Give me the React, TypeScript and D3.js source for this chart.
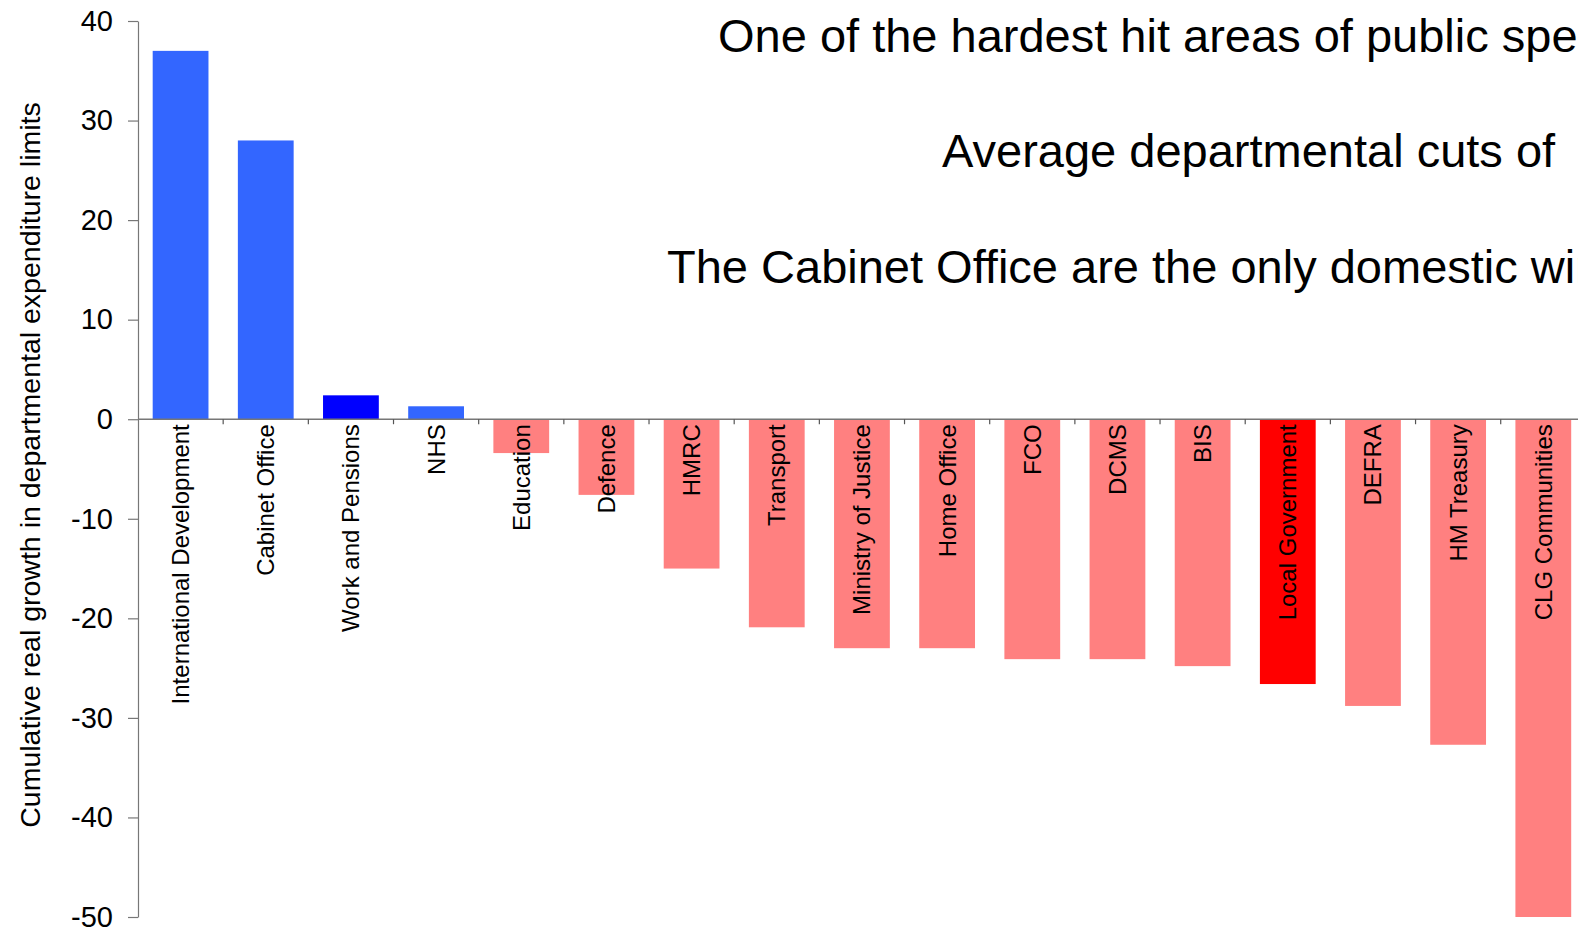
import React, { useEffect, useRef } from 'react';
import * as d3 from 'd3';

// departments, ordered as in the chart
const departments = [
  'International Development',
  'Cabinet Office',
  'Work and Pensions',
  'NHS',
  'Education',
  'Defence',
  'HMRC',
  'Transport',
  'Ministry of Justice',
  'Home Office',
  'FCO',
  'DCMS',
  'BIS',
  'Local Government',
  'DEFRA',
  'HM Treasury',
  'CLG Communities',
];

// cumulative real growth in DEL (%)
const growth = [37, 28, 2.4, 1.3, -3.4, -7.6, -15, -20.9, -23, -23, -24.1, -24.1, -24.8, -26.6, -28.8, -32.7, -51];

const yTicks = [40, 30, 20, 10, 0, -10, -20, -30, -40, -50];

// headline lines run off the right edge in the original slide
const headlines = [
  'One of the hardest hit areas of public spending',
  'Average departmental cuts of',
  'The Cabinet Office are the only domestic winners',
];

const WIDTH = 1578;
const HEIGHT = 928;
const FONT = '"Liberation Sans", Arial, Helvetica, sans-serif';

const barColour = (name: string, v: number) => {
  if (name === 'Work and Pensions') return '#0000ff';
  if (name === 'Local Government') return '#ff0000';
  return v >= 0 ? '#3366ff' : '#ff8080';
};

const App: React.FC = () => {
  const svgRef = useRef<SVGSVGElement | null>(null);

  useEffect(() => {
    if (!svgRef.current) return;
    const svg = d3.select(svgRef.current);
    svg.selectAll('*').remove();

    const left = 138;
    const top = 21;
    const bottom = 917;
    const pad = 0.345;

    const x = d3.scaleBand<string>()
      .domain(departments)
      .range([left, left + departments.length * 85.17])
      .paddingInner(pad)
      .paddingOuter(pad / 2);

    const y = d3.scaleLinear().domain([40, -50]).range([top, bottom]);
    const y0 = y(0);
    const step = x.step();

    svg.append('defs').append('clipPath').attr('id', 'plot-clip')
      .append('rect')
      .attr('x', left).attr('y', top)
      .attr('width', WIDTH - left).attr('height', bottom - top);

    // bars
    const data = departments.map((name, i) => ({ name, value: growth[i] }));
    svg.append('g').attr('clip-path', 'url(#plot-clip)')
      .selectAll('rect')
      .data(data)
      .enter()
      .append('rect')
      .attr('x', d => x(d.name) ?? 0)
      .attr('width', x.bandwidth())
      .attr('y', d => y(Math.max(0, d.value)))
      .attr('height', d => Math.abs(y(d.value) - y0))
      .attr('fill', d => barColour(d.name, d.value));

    // y axis
    const yAxis = svg.append('g')
      .attr('transform', `translate(${left},0)`)
      .call(d3.axisLeft(y).tickValues(yTicks).tickSize(10).tickSizeOuter(0).tickPadding(15)
        .tickFormat(d => String(d)));
    yAxis.select('.domain').attr('stroke', '#777').attr('stroke-width', 1.2);
    yAxis.selectAll('.tick line').attr('stroke', '#777').attr('stroke-width', 1.2);
    yAxis.selectAll('text')
      .attr('fill', '#000')
      .style('font-family', FONT)
      .style('font-size', '29px');

    // category axis line + boundary ticks
    svg.append('line')
      .attr('x1', left).attr('x2', WIDTH)
      .attr('y1', y0).attr('y2', y0)
      .attr('stroke', '#777').attr('stroke-width', 1.5);

    svg.append('g')
      .selectAll('line')
      .data(departments)
      .enter()
      .append('line')
      .attr('x1', d => (x(d) ?? 0) + x.bandwidth() + (step * pad) / 2)
      .attr('x2', d => (x(d) ?? 0) + x.bandwidth() + (step * pad) / 2)
      .attr('y1', y0)
      .attr('y2', y0 + 5)
      .attr('stroke', '#555')
      .attr('stroke-width', 1.2);

    // category labels, rotated
    svg.append('g')
      .selectAll('text')
      .data(departments)
      .enter()
      .append('text')
      .attr('transform', d => `translate(${(x(d) ?? 0) + x.bandwidth() / 2},${y0 + 5}) rotate(-90)`)
      .attr('text-anchor', 'end')
      .attr('dy', '0.35em')
      .style('font-family', FONT)
      .style('font-size', '24px')
      .attr('fill', '#000')
      .text(d => d);

    // y axis title
    svg.append('text')
      .attr('transform', `translate(40,${(top + bottom) / 2 - 4}) rotate(-90)`)
      .attr('text-anchor', 'middle')
      .style('font-family', FONT)
      .style('font-size', '28.5px')
      .attr('fill', '#000')
      .text('Cumulative real growth in departmental expenditure limits');

    // headline text
    const headX = [718, 942, 667];
    const headY = [52, 167, 283];
    svg.append('g')
      .selectAll('text')
      .data(headlines)
      .enter()
      .append('text')
      .attr('x', (_, i) => headX[i])
      .attr('y', (_, i) => headY[i])
      .style('font-family', FONT)
      .style('font-size', '47px')
      .attr('fill', '#000')
      .text(d => d);
  }, []);

  return (
    <div style={{ position: 'absolute', left: 0, top: 0, width: WIDTH, height: HEIGHT, overflow: 'hidden', background: '#fff' }}>
      <svg ref={svgRef} width={WIDTH} height={HEIGHT} style={{ display: 'block' }} />
    </div>
  );
};

export default App;
